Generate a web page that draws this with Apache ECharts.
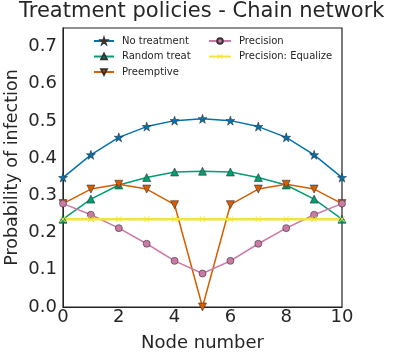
<!DOCTYPE html>
<html><head><meta charset="utf-8">
<script src="https://cdn.jsdelivr.net/npm/echarts@6/dist/echarts.min.js"></script>
<style>html,body{margin:0;padding:0;background:#fff}#c{width:393px;height:359px}</style>
</head><body><div id="c"></div>
<script>
const nodes = [0,1,2,3,4,5,6,7,8,9,10];
const noTreatment = [0.348,0.409,0.456,0.485,0.501,0.506,0.501,0.485,0.456,0.409,0.348];
const randomTreat = [0.236,0.290,0.328,0.348,0.363,0.365,0.363,0.348,0.328,0.290,0.236];
const preemptive = [0.278,0.317,0.330,0.317,0.275,0.0,0.275,0.317,0.330,0.317,0.278];
const precision = [0.278,0.248,0.212,0.170,0.124,0.090,0.124,0.170,0.212,0.248,0.278];
const equalize = [0.236,0.236,0.236,0.236,0.236,0.236,0.236,0.236,0.236,0.236,0.236];
const xTicks = [0,2,4,6,8,10];
const yTicks = [0.0,0.1,0.2,0.3,0.4,0.5,0.6,0.7];

const FONT = 'DejaVu Sans';
const star = 'path://M50,0 L61.8,35.1 L98.9,35.1 L68.9,56.7 L80.3,91.9 L50,70.2 L19.7,91.9 L31.1,56.7 L1.1,35.1 L38.2,35.1 Z';
const xmark = 'path://M10,0 L50,40 L90,0 L100,10 L60,50 L100,90 L90,100 L50,60 L10,100 L0,90 L40,50 L0,10 Z';
const pair = a => nodes.map((n,i)=>[n,a[i]]);
function mk(name, data, color, symbol, size, rot, lw, edge){
  return {name, type:'line', data:pair(data), symbol, symbolSize:size, symbolRotate:rot||0,
    showAllSymbol:true, lineStyle:{color, width:lw||1.5}, itemStyle:{color, borderColor:edge||'#333', borderWidth:edge==='none'?0:0.6},
    emphasis:{disabled:true}, animation:false};
}
const legendText = {fontFamily:FONT, fontSize:10, color:'#262626', padding:[0,0,0,3]};
const chart = echarts.init(document.getElementById('c'), null, {renderer:'canvas'});
chart.setOption({
  animation:false,
  title:{text:'Treatment policies - Chain network', left:19, top:1, padding:0,
    textStyle:{fontFamily:FONT, fontSize:21, fontWeight:'normal', color:'#262626'}},
  grid:{left:63, right:51, top:28, bottom:52, show:true, borderColor:'#222', borderWidth:1.2, outerBoundsMode:'none', containLabel:false},
  legend:[
    {data:['No treatment','Random treat','Preemptive'], orient:'vertical', left:93, top:36, itemGap:5.5,
      itemWidth:20, itemHeight:7, textStyle:legendText, padding:0},
    {data:['Precision','Precision: Equalize'], orient:'vertical', left:208, top:36, itemGap:5.5,
      itemWidth:22, itemHeight:7, textStyle:legendText, padding:0}
  ],
  xAxis:{type:'value', min:0, max:10, interval:2, name:'Node number', nameLocation:'middle', nameGap:27, nameMoveOverlap:false,
    nameTextStyle:{fontFamily:FONT, fontSize:18, color:'#262626'},
    axisLine:{show:true, lineStyle:{color:'#222'}}, axisTick:{show:false}, splitLine:{show:false},
    axisLabel:{fontFamily:FONT, fontSize:18, color:'#262626', margin:1}},
  yAxis:{type:'value', min:0, max:0.75, interval:0.1, name:'Probability of infection', nameLocation:'middle', nameGap:42, nameMoveOverlap:false,
    nameTextStyle:{fontFamily:FONT, fontSize:17.5, color:'#262626'},
    axisLine:{show:true, lineStyle:{color:'#222'}}, axisTick:{show:false}, splitLine:{show:false},
    axisLabel:{fontFamily:FONT, fontSize:18, color:'#262626', margin:6, showMaxLabel:false,
      formatter:v=>yTicks.some(t=>Math.abs(t-v)<1e-6)?v.toFixed(1):''}},
  series:[
    mk('No treatment', noTreatment, '#0072B2', star, 9),
    mk('Random treat', randomTreat, '#009E73', 'triangle', 8),
    mk('Preemptive', preemptive, '#D55E00', 'triangle', 8, 180),
    mk('Precision', precision, '#CC79A7', 'circle', 7),
    mk('Precision: Equalize', equalize, '#F0E442', xmark, 6, 0, 2.5, 'none')
  ]
});
</script></body></html>
